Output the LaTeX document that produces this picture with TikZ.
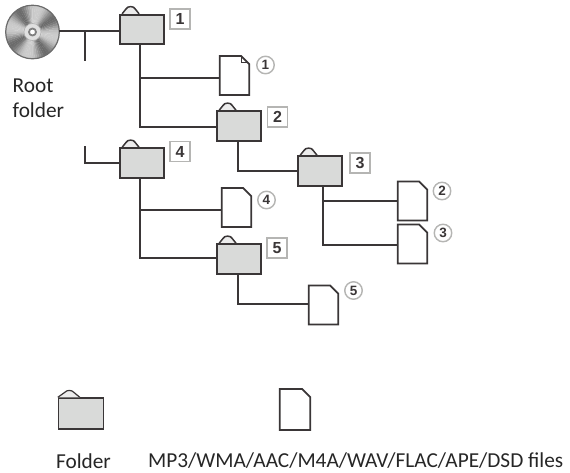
\documentclass[tikz,border=0pt]{standalone}
\usepackage{fontspec}
\setmainfont{Carlito}
\newfontfamily\numfont{Liberation Sans}
\definecolor{ln}{HTML}{3A3637}
\definecolor{fl}{HTML}{D9DAD9}
\definecolor{tagc}{HTML}{B5B5B3}
\newcommand{\disc}[3]{%
  \foreach \a in {0,5,...,355}{
    \pgfmathsetmacro{\g}{20+38*abs(cos(2*\a+70))^3}
    \fill[black!\g!white,draw=none] (#1,#2) -- ++(\a:#3) arc[start angle=\a,end angle=\a+5.6,radius=#3] -- cycle;
  }}
\tikzset{
  x=1pt,y=-1pt,
  wire/.style={draw=ln,line width=2pt,line join=miter},
  folder/.style={draw=ln,fill=fl,line width=1.8pt,inner sep=0pt,minimum width=44pt,minimum height=29.5pt,
    append after command={
      \pgfextra{\draw[ln,line width=1.5pt,fill=fl!50!white,line join=round]
        ([xshift=3pt]\tikzlastnode.north west) -- ++(4pt,5pt) .. controls +(1pt,3pt) and +(-1pt,3pt) .. ++(9pt,0pt) -- ++(4pt,-5pt);}}},
  folderb/.style={draw=ln,fill=fl,line width=1.4pt,inner sep=0pt,minimum width=45pt,minimum height=31pt},
  filebox/.style={inner sep=0pt,minimum width=29pt,minimum height=38.5pt,
    append after command={
      \pgfextra{\draw[ln,line width=1.8pt,fill=white,line join=miter]
        (\tikzlastnode.north west) -- ([xshift=-8pt]\tikzlastnode.north east)
        -- ([yshift=-8pt]\tikzlastnode.north east) -- (\tikzlastnode.south east)
        -- (\tikzlastnode.south west) -- cycle;}}},
  tag/.style={draw=tagc,fill=white,line width=1.2pt,inner sep=0pt,minimum size=20pt,font=\numfont\bfseries\fontsize{16}{16}\selectfont,text=ln},
  circ/.style={circle,draw=tagc,fill=white,line width=1.4pt,inner sep=0pt,minimum size=17.5pt,font=\numfont\bfseries\fontsize{13.5}{13.5}\selectfont,text=ln},
  lab/.style={inner sep=0pt,text=black!85,font=\fontsize{21.3}{25}\selectfont,align=left},
}
\begin{document}
\begin{tikzpicture}
\useasboundingbox (0,0) rectangle (570,472);
% disc
\disc{32.5}{32}{27}
\draw[gray!85!black,line width=1.2pt] (32.5,32) circle[radius=26.8];
\node[circle,draw=gray!60,fill=black!12,line width=.6pt,minimum size=17pt,inner sep=0pt] (disc) at (32.5,32) {};
\node[circle,draw=gray,fill=white,line width=1.8pt,minimum size=7pt,inner sep=0pt] at (32.5,32) {};
\coordinate (discr) at (59,31);
% folders
\node[folder] (f1) at (142,29.5) {};
\node[folder] (f2) at (239,126) {};
\node[folder] (f3) at (320,171) {};
\node[folder] (f4) at (142,163) {};
\node[folder] (f5) at (239,259) {};
% files
\node[filebox] (d1) at (234.5,75.5) {};
\node[filebox] (d2) at (412.5,201) {};
\node[filebox] (d3) at (412.5,244) {};
\node[filebox] (d4) at (236.5,207.5) {};
\node[filebox] (d5) at (323.5,305) {};
\draw[ln,line width=1pt] ([xshift=-8pt]d1.north east) -- ++(0,6) -- ++(7,0);
% connectors
\coordinate (j0) at (85,31);
\coordinate (j0b) at (85,61);
\coordinate (j4t) at (85,146);
\coordinate (j4) at (85,163);
\draw[wire] (discr) -- (f1.west |- discr);
\draw[wire] (j0) -- (j0b);
\draw[wire] (j4t) -- (j4) -- (f4.west);
\coordinate (t1) at (140,44);
\coordinate (t1a) at (140,78);
\coordinate (t1b) at (140,127);
\draw[wire] (t1) -- (t1b) -- (f2.west |- t1b);
\draw[wire] (t1a) -- (d1.west |- t1a);
\coordinate (t2) at (238,141);
\coordinate (t2b) at (238,171);
\draw[wire] (t2) -- (t2b) -- (f3.west |- t2b);
\coordinate (t3) at (323,186);
\coordinate (t3a) at (323,201);
\coordinate (t3b) at (323,245);
\draw[wire] (t3) -- (t3b) -- (d3.west |- t3b);
\draw[wire] (t3a) -- (d2.west |- t3a);
\coordinate (t4) at (140,178);
\coordinate (t4a) at (140,210);
\coordinate (t4b) at (140,258);
\draw[wire] (t4) -- (t4b) -- (f5.west |- t4b);
\draw[wire] (t4a) -- (d4.west |- t4a);
\coordinate (t5) at (238,274);
\coordinate (t5b) at (238,304);
\draw[wire] (t5) -- (t5b) -- (d5.west |- t5b);
% tags
\node[tag] (n1) at (180,19) {1};
\node[tag] (n2) at (277.5,117) {2};
\node[tag] (n3) at (360,163) {3};
\node[tag] (n4) at (180,151.5) {4};
\node[tag] (n5) at (277,248) {5};
\node[circ] (c1) at (265.5,65) {1};
\node[circ] (c2) at (442,191) {2};
\node[circ] (c3) at (443,233) {3};
\node[circ] (c4) at (266.5,200) {4};
\node[circ] (c5) at (353.5,290.5) {5};
% labels
\node[lab,anchor=base west] (root) at (12.5,92) {Root};
\node[lab,anchor=base west] (root2) at (12.5,117) {folder};
% legend
\node[folderb] (lf) at (81,413.5) {};
\draw[ln,line width=1.2pt,line join=round,fill=fl!50!white] (lf.north west) -- ++(7,-5) .. controls +(2,-2.5) and +(-2,-2.5) .. ++(9,0) -- ++(6,5);
\node[filebox,minimum width=30pt,minimum height=40.5pt] (lg) at (295,409.5) {};
\node[lab,anchor=base] (tf) at (83.5,468) {Folder};
\node[lab,anchor=base west] (tg) at (148,467) {MP3/WMA/AAC/M4A/WAV/FLAC/APE/DSD files};
\end{tikzpicture}
\end{document}
